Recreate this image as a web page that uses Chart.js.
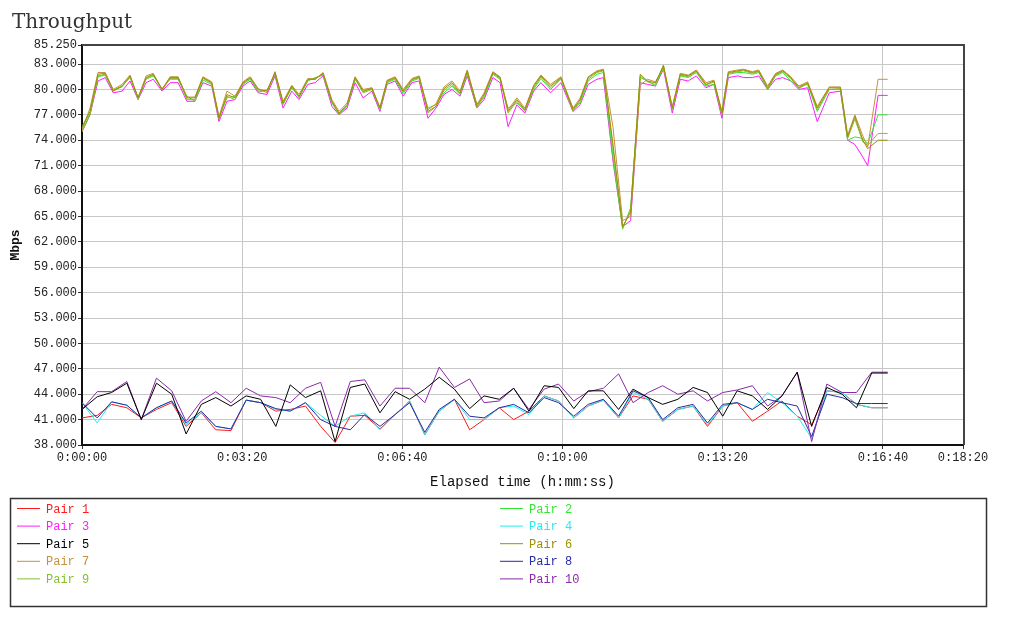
<!DOCTYPE html>
<html><head><meta charset="utf-8">
<script src="https://cdn.jsdelivr.net/npm/chart.js@4"></script>
<style>html,body{margin:0;padding:0;background:#fff;}</style>
</head><body>
<canvas id="c" width="1010" height="628" style="display:block;width:1010px;height:628px"></canvas>
<script>
// ---- data ----
const T_UP = [0, 10, 20, 29, 39, 50, 60, 70, 80, 89,
 100, 110, 120, 131, 141, 151, 162, 171, 181, 191,
 201, 210, 220, 231, 241, 251, 262, 271, 282, 291,
 301, 312, 321, 331, 341, 351, 362, 372, 381, 391,
 401, 412, 421, 432, 442, 452, 462, 472, 481, 493,
 502, 513, 522, 532, 543, 553, 564, 573, 585, 598,
 613, 622, 632, 643, 651, 663, 675, 685, 697, 706,
 716, 726, 737, 747, 757, 767, 779, 789, 799, 807,
 819, 826, 837, 845, 856, 866, 875, 885, 895, 906,
 918, 933, 947, 956, 965, 975, 981, 994, 1006];

const PAIR6 = [75.6, 77.4, 81.8, 81.9, 79.8, 80.4, 81.6, 79.0, 81.4, 81.8,
 80.0, 81.4, 81.4, 79.0, 79.0, 81.4, 80.8, 76.6, 79.4, 79.0,
 80.8, 81.4, 80.0, 79.8, 82.0, 78.4, 80.4, 79.2, 81.2, 81.2,
 81.9, 78.6, 77.2, 78.2, 81.4, 79.8, 80.1, 77.8, 81.0, 81.4,
 79.8, 81.2, 81.5, 77.4, 78.0, 80.1, 80.8, 79.6, 82.2, 78.0,
 79.4, 82.0, 81.4, 77.4, 78.8, 77.6, 80.4, 81.6, 80.4, 81.4,
 77.6, 78.8, 81.4, 82.1, 82.3, 73.5, 63.8, 65.5, 81.8, 81.0,
 80.8, 82.8, 77.8, 81.8, 81.6, 82.2, 80.6, 81.0, 77.2, 82.0,
 82.2, 82.3, 82.0, 82.2, 80.2, 81.8, 82.2, 81.4, 80.2, 80.8,
 77.8, 80.2, 80.2, 74.4, 76.8, 74.0, 73.0, 74.0, 74.0];

const PAIR7 = [75.2, 77.8, 82.0, 82.0, 80.0, 80.6, 81.7, 79.0, 81.6, 81.9,
 80.0, 81.5, 81.5, 79.1, 79.1, 81.5, 80.9, 76.8, 79.8, 79.2,
 80.9, 81.5, 80.1, 79.6, 82.1, 78.6, 80.5, 79.4, 81.3, 81.2,
 82.0, 78.8, 77.4, 78.4, 81.5, 80.0, 80.2, 77.9, 81.1, 81.5,
 80.0, 81.3, 81.6, 77.6, 78.3, 80.3, 81.0, 79.8, 82.3, 78.2,
 79.6, 82.1, 81.5, 77.6, 79.0, 77.8, 80.5, 81.7, 80.6, 81.5,
 77.8, 79.0, 81.5, 82.2, 82.4, 75.5, 64.5, 65.0, 80.5, 81.2,
 80.9, 82.6, 78.0, 81.9, 81.7, 82.3, 80.8, 81.1, 77.4, 82.1,
 82.3, 82.4, 82.1, 82.3, 80.4, 81.9, 82.3, 81.5, 80.4, 80.9,
 78.0, 80.3, 80.3, 74.6, 77.0, 74.5, 73.2, 81.2, 81.2];

const PAIR9 = [75.0, 77.0, 81.6, 81.8, 79.9, 80.3, 81.5, 78.8, 81.3, 81.7,
 79.9, 81.3, 81.3, 78.8, 78.8, 81.3, 80.7, 76.5, 79.2, 78.8,
 80.7, 81.3, 79.8, 79.9, 81.9, 78.2, 80.3, 79.0, 81.1, 81.3,
 81.8, 78.5, 77.0, 78.0, 81.3, 79.6, 80.0, 77.7, 80.9, 81.3,
 79.7, 81.1, 81.4, 77.2, 78.0, 79.9, 80.6, 79.5, 82.0, 77.8,
 79.2, 81.9, 81.3, 77.2, 78.6, 77.4, 80.2, 81.5, 80.2, 81.3,
 77.4, 78.6, 81.2, 82.0, 82.2, 73.0, 63.6, 65.8, 81.6, 80.9,
 80.6, 82.9, 77.6, 81.7, 81.5, 82.1, 80.5, 80.9, 77.0, 81.9,
 82.1, 82.2, 81.9, 82.1, 80.0, 81.7, 82.1, 81.3, 80.1, 80.7,
 77.6, 80.0, 80.1, 74.2, 76.5, 73.8, 73.4, 74.8, 74.8];

const PAIR2 = [75.4, 77.2, 81.5, 81.7, 79.9, 80.4, 81.4, 79.1, 81.2, 81.6,
 80.1, 81.2, 81.2, 79.2, 78.6, 81.1, 80.6, 76.8, 79.0, 79.2,
 80.6, 81.2, 79.7, 79.9, 81.8, 78.3, 80.2, 79.1, 81.0, 81.4,
 81.7, 78.4, 77.1, 78.1, 81.2, 79.7, 80.2, 77.6, 80.8, 81.2,
 79.5, 81.0, 81.3, 77.8, 78.2, 79.6, 80.4, 79.4, 81.9, 78.3,
 79.0, 81.8, 81.2, 77.8, 78.4, 77.6, 80.0, 81.3, 80.0, 81.2,
 77.8, 78.4, 81.0, 81.8, 82.0, 72.0, 63.5, 66.0, 81.4, 81.0,
 80.4, 82.6, 77.8, 81.6, 81.4, 82.0, 80.4, 80.6, 77.4, 81.8,
 82.0, 82.0, 81.8, 82.0, 80.0, 81.6, 82.0, 81.0, 80.4, 80.6,
 77.4, 80.0, 80.0, 74.0, 74.4, 74.2, 73.6, 77.0, 77.0];

const PAIR3 = [75.0, 77.0, 81.0, 81.4, 79.6, 79.8, 81.0, 78.8, 80.8, 81.2,
 79.8, 80.8, 80.8, 78.6, 78.6, 80.8, 80.4, 76.2, 78.6, 78.8,
 80.4, 81.0, 79.6, 79.4, 81.6, 77.8, 79.8, 78.8, 80.6, 80.8,
 81.6, 78.0, 77.0, 77.8, 80.8, 79.0, 79.8, 77.4, 80.6, 81.0,
 79.2, 80.8, 81.0, 76.6, 77.8, 79.4, 80.0, 79.2, 81.6, 77.8,
 78.8, 81.4, 80.8, 75.6, 78.2, 77.2, 79.8, 80.8, 79.6, 80.8,
 77.4, 78.2, 80.6, 81.2, 81.4, 71.5, 63.8, 64.5, 80.8, 80.6,
 80.4, 82.4, 77.2, 81.2, 81.0, 81.6, 80.2, 80.6, 76.6, 81.4,
 81.6, 81.4, 81.4, 81.6, 80.0, 81.2, 81.4, 81.0, 80.0, 80.2,
 76.2, 79.6, 79.8, 74.0, 73.5, 72.0, 71.0, 79.3, 79.3];

const T_LOW = [0, 19, 37, 56, 74, 93, 112, 130, 149, 167,
 186, 205, 223, 242, 260, 279, 298, 316, 335, 353,
 372, 391, 409, 428, 446, 465, 484, 502, 521, 539,
 558, 577, 595, 614, 632, 651, 670, 688, 707, 725,
 744, 763, 781, 800, 818, 837, 856, 874, 893, 911,
 930, 949, 967, 986, 1006];

const PAIR10 = [42.2, 44.3, 44.3, 45.5, 41.0, 45.9, 44.4, 40.8, 43.2, 44.3,
 43.0, 44.7, 43.8, 43.6, 43.0, 44.7, 45.4, 40.2, 45.5, 45.7,
 42.6, 44.7, 44.7, 43.0, 47.2, 44.8, 45.8, 43.0, 43.2, 44.7,
 42.2, 44.6, 45.2, 43.2, 44.3, 44.7, 46.4, 43.0, 44.2, 45.0,
 44.0, 44.4, 43.2, 44.2, 44.5, 45.0, 42.6, 43.8, 46.6, 38.4,
 45.2, 44.2, 44.2, 46.6, 46.6];

const PAIR5 = [42.2, 43.7, 44.2, 45.3, 41.0, 45.3, 44.0, 39.3, 42.8, 43.6,
 42.6, 43.8, 43.4, 40.2, 45.1, 43.6, 44.4, 38.4, 44.8, 45.2,
 41.8, 44.3, 43.4, 44.6, 46.0, 44.6, 42.3, 43.8, 43.4, 44.7,
 42.0, 45.0, 44.8, 42.3, 44.4, 44.4, 42.2, 44.6, 43.6, 42.8,
 43.4, 44.8, 44.2, 41.4, 44.4, 43.8, 42.2, 43.8, 46.6, 40.2,
 44.8, 44.0, 42.4, 46.5, 46.5];

const PAIR1 = [41.2, 41.5, 42.8, 42.4, 41.2, 42.2, 43.0, 40.2, 41.8, 39.8,
 39.7, 43.3, 43.0, 42.0, 42.2, 42.6, 40.2, 38.3, 41.4, 41.5,
 39.9, 41.6, 43.2, 39.2, 42.0, 43.4, 39.8, 41.0, 42.4, 41.0,
 42.0, 43.8, 43.2, 41.2, 42.6, 43.3, 41.2, 43.8, 43.4, 40.8,
 42.2, 42.6, 40.2, 42.6, 43.0, 40.8, 42.0, 43.2, 41.4, 40.4,
 44.4, 44.2, 42.8, 42.4, 42.4];

const PAIR4 = [43.0, 40.6, 43.1, 42.7, 41.2, 42.4, 43.2, 40.4, 41.8, 40.2,
 39.9, 43.3, 43.0, 42.2, 42.0, 43.0, 41.5, 40.2, 41.4, 41.8,
 39.8, 41.6, 43.2, 39.2, 42.0, 43.4, 41.0, 41.0, 42.4, 42.6,
 41.6, 43.8, 43.2, 41.2, 42.6, 43.3, 41.2, 44.2, 43.4, 40.8,
 42.2, 42.6, 40.4, 42.6, 43.0, 42.2, 44.2, 43.0, 41.4, 38.8,
 44.4, 44.2, 42.8, 42.4, 42.4];

const PAIR8 = [43.0, 41.2, 43.1, 42.7, 41.2, 42.4, 43.2, 40.6, 42.0, 40.2,
 39.9, 43.3, 43.0, 42.3, 42.0, 43.0, 41.0, 40.2, 39.8, 41.6,
 40.2, 41.6, 43.0, 39.5, 42.2, 43.4, 41.4, 41.2, 42.4, 42.8,
 41.8, 43.6, 43.0, 41.4, 42.8, 43.4, 41.4, 44.4, 43.6, 41.0,
 42.4, 42.8, 40.6, 42.8, 43.0, 42.2, 43.4, 43.0, 42.6, 39.0,
 44.0, 43.6, 42.9, 42.9, 42.9];

const X_TICKS = [0, 200, 400, 600, 800, 1000, 1100];
const Y_TICKS = [38, 41, 44, 47, 50, 53, 56, 59, 62, 65, 68, 71, 74, 77, 80, 83, 85.25];
const NAMES = ['Pair 1','Pair 2','Pair 3','Pair 4','Pair 5','Pair 6','Pair 7','Pair 8','Pair 9','Pair 10'];

// ---- styles ----
const COLORS = ['#ff1a1a','#33e633','#ff1aff','#22eeee','#000000','#9a9000','#c8903c','#2a2aa8','#84c030','#8a2aa8'];
const Z = [4, 3, 4, 3, 0, 0, 1, 2, 2, 1];

function pts(t, v) { return t.map((x, i) => ({x: x, y: v[i]})); }
const SERIES = [[T_LOW, PAIR1],[T_UP, PAIR2],[T_UP, PAIR3],[T_LOW, PAIR4],[T_LOW, PAIR5],
                [T_UP, PAIR6],[T_UP, PAIR7],[T_LOW, PAIR8],[T_UP, PAIR9],[T_LOW, PAIR10]];

function hms(s) {
  const h = Math.floor(s / 3600), m = Math.floor((s % 3600) / 60), sec = Math.round(s % 60);
  return h + ':' + String(m).padStart(2, '0') + ':' + String(sec).padStart(2, '0');
}

const MONO = '"Liberation Mono", "DejaVu Sans Mono", monospace';

const framePlugin = {
  id: 'frame',
  afterDraw(chart) {
    const {ctx, chartArea: a} = chart;
    ctx.save();
    // title
    ctx.fillStyle = '#333';
    ctx.font = '20px "DejaVu Serif", "Liberation Serif", serif';
    ctx.textBaseline = 'alphabetic';
    ctx.textAlign = 'left';
    ctx.fillText('Throughput', 12, 28);
    // top and right border
    ctx.strokeStyle = '#444';
    ctx.lineWidth = 2;
    ctx.beginPath();
    ctx.moveTo(a.left, a.top); ctx.lineTo(a.right + 1, a.top); ctx.lineTo(a.right + 1, a.bottom);
    ctx.stroke();
    // legend box
    ctx.strokeStyle = '#333';
    ctx.lineWidth = 1.5;
    ctx.strokeRect(10.5, 498.5, 976, 108);
    ctx.font = '12px ' + MONO;
    ctx.textBaseline = 'middle';
    chart.data.datasets.forEach((ds, i) => {
      const col = i % 2, row = Math.floor(i / 2);
      const x0 = col ? 500 : 17;
      const y = 508.5 + row * 17.6;
      ctx.strokeStyle = ds.borderColor;
      ctx.lineWidth = 1;
      ctx.beginPath(); ctx.moveTo(x0, y); ctx.lineTo(x0 + 23, y); ctx.stroke();
      ctx.fillStyle = ds.borderColor;
      ctx.fillText(ds.label, x0 + 29, y + 1);
    });
    ctx.restore();
  }
};

new Chart(document.getElementById('c'), {
  type: 'line',
  data: {
    datasets: SERIES.map((s, i) => ({
      label: NAMES[i],
      data: pts(s[0], s[1]),
      borderColor: COLORS[i],
      backgroundColor: COLORS[i],
      borderWidth: 1,
      pointRadius: 0,
      tension: 0,
      fill: false,
      order: Z[i]
    }))
  },
  options: {
    responsive: false,
    animation: false,
    devicePixelRatio: 1,
    layout: {padding: {left: 0, right: 47, top: 45, bottom: 136}},
    plugins: {legend: {display: false}, tooltip: {enabled: false}, title: {display: false}},
    scales: {
      x: {
        type: 'linear', min: 0, max: 1100,
        afterBuildTicks: s => { s.ticks = X_TICKS.map(v => ({value: v})); },
        afterFit: s => { s.height = 47; },
        ticks: {callback: v => hms(v), font: {family: MONO, size: 12}, color: '#222', maxRotation: 0, autoSkip: false, padding: 2},
        grid: {color: '#c8c8c8', lineWidth: 1, tickLength: 4, tickColor: '#333'},
        border: {color: '#111', width: 2},
        title: {display: true, text: 'Elapsed time (h:mm:ss)', font: {family: MONO, size: 14}, color: '#111', padding: {top: 0, bottom: 1}}
      },
      y: {
        min: 38, max: 85.25,
        afterBuildTicks: s => { s.ticks = Y_TICKS.map(v => ({value: v})); },
        afterFit: s => { s.width = 82; },
        ticks: {callback: v => Number(v).toFixed(3), font: {family: MONO, size: 12}, color: '#222', padding: 1, autoSkip: false},
        grid: {color: '#c8c8c8', lineWidth: 1, tickLength: 4, tickColor: '#333'},
        border: {color: '#111', width: 2},
        title: {display: true, text: 'Mbps', font: {family: MONO, size: 13, weight: 'bold'}, color: '#111', padding: {top: 8, bottom: 0}}
      }
    }
  },
  plugins: [framePlugin]
});
</script>
</body></html>
